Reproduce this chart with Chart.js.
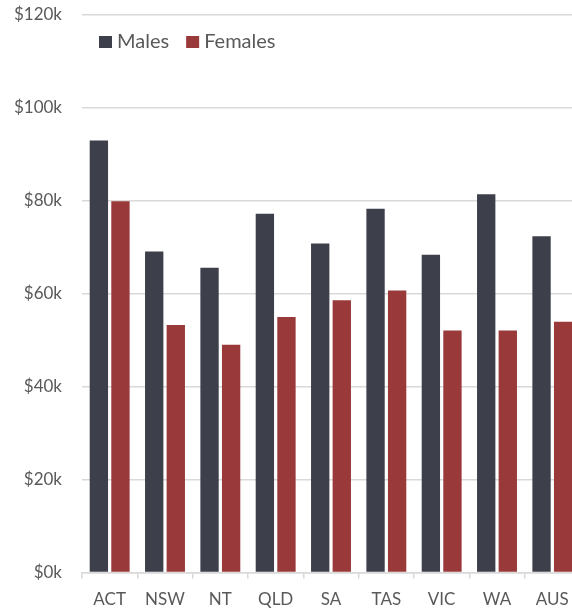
<!DOCTYPE html>
<html>
<head>
<meta charset="utf-8">
<script src="https://cdn.jsdelivr.net/npm/chart.js@4"></script>
<style>
  html, body { margin: 0; padding: 0; background: #fff; overflow: hidden; }
  #wrap { width: 580px; height: 609px; }
</style>
</head>
<body>
<div id="wrap"><canvas id="c" width="580" height="609"></canvas></div>
<script>
const categories = ['ACT', 'NSW', 'NT', 'QLD', 'SA', 'TAS', 'VIC', 'WA', 'AUS'];
const males   = [93000, 69100, 65600, 77200, 70800, 78300, 68400, 81400, 72400];
const females = [79900, 53300, 49000, 55000, 58600, 60700, 52100, 52100, 54000];
const seriesNames = ['Males', 'Females'];
const yTicks = [0, 20000, 40000, 60000, 80000, 100000, 120000];

const FONT = 'Lato, "Open Sans", sans-serif';
const TEXT = '#595959';
const GRID = '#d9d9d9';

// Legend drawn inside the plot area, horizontally, from the datasets
const insideLegend = {
  id: 'insideLegend',
  afterDraw(chart) {
    const ctx = chart.ctx;
    const area = chart.chartArea;
    const fontSize = 20;
    ctx.save();
    ctx.font = fontSize + 'px ' + FONT;
    ctx.textBaseline = 'middle';
    ctx.textAlign = 'left';
    let x = area.left + 17;
    const cy = area.top + 27;
    chart.data.datasets.forEach(ds => {
      ctx.fillStyle = ds.backgroundColor;
      ctx.fillRect(x, cy - 6, 13, 12);
      x += 13 + 5;
      ctx.fillStyle = TEXT;
      ctx.fillText(ds.label, x, cy);
      x += ctx.measureText(ds.label).width + 17;
    });
    ctx.restore();
  }
};

new Chart(document.getElementById('c'), {
  type: 'bar',
  data: {
    labels: categories,
    datasets: [
      { label: seriesNames[0], data: males, backgroundColor: '#3d3f4b', barPercentage: 0.85, categoryPercentage: 0.78 },
      { label: seriesNames[1], data: females, backgroundColor: '#99393a', barPercentage: 0.85, categoryPercentage: 0.78 }
    ]
  },
  plugins: [insideLegend],
  options: {
    responsive: false,
    animation: false,
    layout: { padding: { top: 15, right: 0, bottom: 0, left: 0 } },
    plugins: {
      tooltip: { enabled: false },
      legend: { display: false }
    },
    scales: {
      x: {
        grid: { drawOnChartArea: false, drawTicks: true, tickLength: 6, color: GRID, lineWidth: 1.5 },
        border: { display: true, color: GRID, width: 1.5 },
        ticks: { color: TEXT, font: { family: FONT, size: 17 }, padding: 11 },
        afterFit: s => { s.height = 36.5; }
      },
      y: {
        min: 0,
        max: 120000,
        afterBuildTicks: s => { s.ticks = yTicks.map(v => ({ value: v })); },
        grid: { color: GRID, lineWidth: 1.5, drawTicks: false },
        border: { display: false },
        ticks: {
          color: TEXT,
          font: { family: FONT, size: 17 },
          padding: 20,
          callback: v => '$' + (v / 1000) + 'k'
        },
        afterFit: s => { s.width = 82; s.paddingTop = 10; s.paddingBottom = 0; }
      }
    }
  }
});
</script>
</body>
</html>
